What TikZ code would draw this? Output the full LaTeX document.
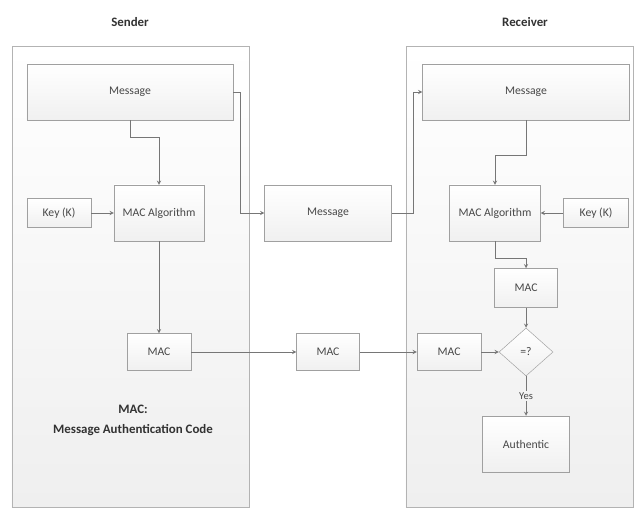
\documentclass[tikz,border=0pt]{standalone}
\usepackage{fontspec}
\setmainfont{Carlito}
\usepackage{tikz}
\usetikzlibrary{shapes.geometric}
\definecolor{linegray}{RGB}{118,118,118}
\definecolor{edgegray}{RGB}{160,160,160}
\definecolor{textgray}{RGB}{72,72,72}
\definecolor{panelgray}{RGB}{239,239,239}
\definecolor{boxgray}{RGB}{240,240,240}

\begin{document}
\begin{tikzpicture}[x=0.03cm, y=-0.03cm,
	panel/.style={draw=edgegray!80, line width=0.8pt, top color=white, bottom color=panelgray},
	box/.style={draw=edgegray, top color=white, bottom color=boxgray, text=textgray, font=\fontsize{10}{12}\selectfont, inner sep=2pt},
	flow/.style={->, >=stealth, linegray, line width=0.6pt},
	title/.style={text=textgray!70!black, font=\fontsize{11}{17}\selectfont\bfseries, align=center}]
	\useasboundingbox (0,0) rectangle (635,509);
	
	% two sides
	\node[panel, minimum width=7.11cm, minimum height=13.83cm] (sndPanel) at (130.5,276.5) {};
	\node[panel, minimum width=6.81cm, minimum height=13.83cm] (rcvPanel) at (519.5,276.5) {};
	\node[title] (sndTitle) at (130,22) {Sender};
	\node[title] (rcvTitle) at (525,22) {Receiver};
	
	% sender
	\node[box, minimum width=6.18cm, minimum height=1.68cm] (msgS) at (130,92) {Message};
	\node[box, minimum width=2.7cm, minimum height=1.68cm] (algS) at (159,213) {MAC Algorithm};
	\node[box, minimum width=1.92cm, minimum height=0.87cm, left of=algS, node distance=3cm] (keyS) {Key (K)};
	\node[box, minimum width=1.92cm, minimum height=1.11cm, below of=algS, node distance=4.17cm] (macS) {MAC};
	\node[title] (macNote) at (133,420) {MAC:\\Message Authentication Code};
	
	% channel
	\node[box, minimum width=3.81cm, minimum height=1.68cm] (msgM) at (328,213) {Message};
	\node[box, minimum width=1.89cm, minimum height=1.11cm, right of=macS, node distance=5.07cm] (macM) {MAC};
	
	% receiver
	\node[box, minimum width=6.21cm, minimum height=1.68cm] (msgR) at (526,92) {Message};
	\node[box, minimum width=2.73cm, minimum height=1.68cm] (algR) at (495,213) {MAC Algorithm};
	\node[box, minimum width=1.95cm, minimum height=0.87cm, right of=algR, node distance=3.03cm] (keyR) {Key (K)};
	\node[box, minimum width=1.92cm, minimum height=1.11cm, right of=macM, node distance=3.63cm] (macRx) {MAC};
	\node[box, diamond, minimum width=1.62cm, minimum height=1.44cm, inner sep=0pt, right of=macRx, node distance=2.31cm] (cmp) {=?};
	\node[box, minimum width=1.89cm, minimum height=1.17cm, above of=cmp, node distance=1.92cm] (macCalc) {MAC};
	\node[text=textgray, font=\fontsize{9}{11}\selectfont, inner sep=1pt, below of=cmp, node distance=1.32cm] (yesLbl) {Yes};
	\node[box, minimum width=2.61cm, minimum height=1.68cm, below of=cmp, node distance=2.76cm] (auth) {Authentic};
	
	\draw[flow] (msgS.south) -- ++(0,17) -| (algS.north);
	\draw[flow] (keyS) -- (algS);
	\draw[flow] (algS) -- (macS);
	\draw[flow] (msgS.east) -- ++(7,0) |- (msgM.west);
	\draw[flow] (msgM.east) -- ++(22,0) |- (msgR.west);
	\draw[flow] (macS) -- (macM);
	\draw[flow] (macM) -- (macRx);
	\draw[flow] (macRx) -- (cmp);
	\draw[flow] (msgR.south) -- ++(0,35) -| (algR.north);
	\draw[flow] (keyR) -- (algR);
	\draw[flow] (algR.south) -- ++(0,17) -| (macCalc.north);
	\draw[flow] (macCalc) -- (cmp);
	\draw[linegray, line width=0.6pt] (cmp) -- (yesLbl);
	\draw[flow] (yesLbl) -- (auth);
\end{tikzpicture}
\end{document}
